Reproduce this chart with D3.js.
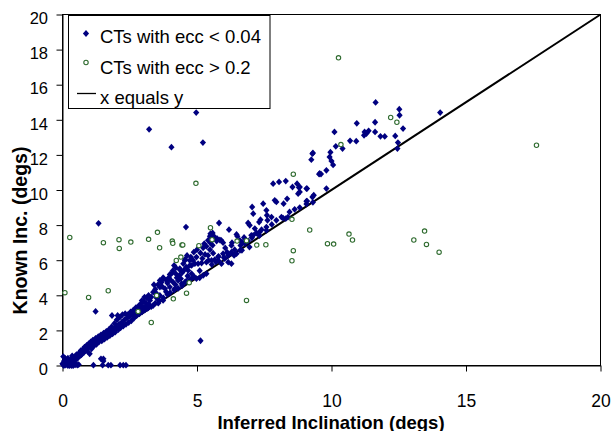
<!DOCTYPE html>
<html><head><meta charset="utf-8">
<script src="https://cdn.jsdelivr.net/npm/d3@7"></script>
<style>body{margin:0;background:#fff;overflow:hidden}</style>
</head><body>
<svg id="c" width="614" height="431"></svg>
<script>
// ---- data: [inferred inclination, known inclination] ----
const lowEcc = [
// origin cluster
[0.02,0.05],[0.05,0.0],[0.08,0.12],[0.1,0.02],[0.12,0.18],[0.15,0.06],[0.18,0.22],[0.2,0.0],[0.22,0.1],[0.25,0.3],
[0.28,0.05],[0.3,0.2],[0.32,0.38],[0.35,0.12],[0.38,0.02],[0.4,0.28],[0.42,0.45],[0.45,0.15],[0.48,0.52],[0.5,0.35],
[0.06,0.25],[0.14,0.32],[0.03,0.51],[0.26,0.0],[0.33,0.0],[0.4,0.0],[0.47,0.03],[0.55,0.02],[0.6,0.05],[0.0,0.1],
[0.1,0.4],[0.2,0.42],[0.36,0.55],
// bottom row and low outliers
[1.15,0.02],[1.49,0.02],[1.52,0.25],[1.7,0.02],[1.8,0.02],[2.14,0.02],[2.26,0.02],[2.36,0.02],[1.01,0.67],[1.52,0.38],
[1.43,0.38],[1.23,3.08],[1.34,8.1],[5.13,1.41],
// band 0.5 - 3.2
[0.52,0.62],[0.55,0.4],[0.58,0.48],[0.62,0.72],[0.65,0.55],[0.68,0.85],[0.7,0.6],[0.73,0.68],[0.76,0.92],[0.8,0.75],
[0.82,1.05],[0.85,0.85],[0.88,0.95],[0.9,1.15],[0.93,0.8],[0.96,1.0],[0.98,1.25],[1.02,1.1],[1.05,1.35],[1.08,0.95],
[1.1,1.2],[1.13,1.45],[1.16,1.1],[1.2,1.3],[1.23,1.55],[1.26,1.2],[1.3,1.45],[1.33,1.65],[1.36,1.35],[1.4,1.55],
[1.43,1.75],[1.46,1.4],[1.5,1.65],[1.53,1.85],[1.56,1.5],[1.6,1.75],[1.63,1.95],[1.66,1.6],[1.7,1.85],[1.73,2.05],
[1.76,1.7],[1.8,1.95],[1.82,2.2],[1.84,2.85],[1.86,1.8],[1.9,2.1],[1.93,2.4],[1.96,1.9],[2.0,2.2],[2.02,2.6],
[2.05,2.85],[2.08,2.05],[2.1,2.35],[2.13,2.75],[2.16,2.15],[2.2,2.45],[2.23,2.9],[2.26,2.25],[2.3,2.6],[2.33,2.95],
[2.36,2.35],[2.4,2.7],[2.43,2.9],[2.46,2.45],[2.5,2.8],[2.53,3.05],[2.56,2.55],[2.6,2.9],[2.63,3.15],[2.66,2.7],
[2.7,3.0],[2.73,3.3],[2.76,2.85],[2.8,3.1],[2.83,3.4],[2.86,2.95],[2.9,3.2],[2.93,3.55],[2.96,3.05],[3.0,3.3],
[3.03,3.65],[3.06,3.15],[3.1,3.4],[3.13,3.85],[3.16,3.25],[3.2,3.5],
// band 3.2 - 5
[3.25,3.71],[3.13,3.52],[3.0,3.33],[2.88,3.23],[3.74,3.71],[3.56,3.55],[3.37,3.42],[3.19,3.29],[3.37,4.18],[3.5,4.09],
[3.62,3.99],[3.62,4.47],[3.81,4.38],[3.99,4.47],[4.18,4.38],[3.77,4.95],[3.87,4.85],[3.68,4.75],[4.11,4.75],[4.3,4.85],
[4.43,4.66],[4.55,4.75],[4.05,5.23],[4.21,5.23],[4.34,5.13],[4.36,5.52],[4.51,5.42],[4.67,5.42],[4.8,5.23],[4.86,5.04],
[4.98,4.95],[5.1,5.0],[5.23,5.13],[5.35,5.23],[4.8,5.7],[4.92,5.8],[5.04,5.8],[5.17,5.84],[4.63,6.27],[4.73,5.99],
[4.55,5.99],[4.88,6.46],[4.98,6.18],[5.13,6.41],[5.3,6.33],[3.74,5.0],[3.99,5.19],[4.21,5.57],[4.36,5.46],[4.49,5.8],
[4.73,5.7],[4.56,6.06],[4.77,6.18],
[3.3,3.35],[3.45,3.55],[3.6,3.7],[3.75,3.85],[3.9,4.05],[4.0,4.15],[4.15,4.3],[4.3,4.4],[4.45,4.55],[4.6,4.8],
[4.75,4.9],[4.9,5.05],[3.5,3.85],[3.85,4.2],[4.2,4.6],[4.4,4.95],[3.45,4.35],[3.55,4.6],[3.3,3.9],[3.9,4.7],
[4.0,4.9],[4.65,5.1],[3.4,4.6],[3.62,4.85],[3.7,4.5],[3.95,5.0],[4.1,5.4],[4.25,5.0],[4.45,5.3],[4.6,5.6],
[4.85,6.0],[5.0,6.6],[4.15,5.7],[3.2,4.0],[3.05,3.9],[2.95,3.7],
// band 5 - 9.5
[5.35,6.79],[5.23,6.71],[5.41,7.13],[5.5,6.98],[5.58,6.85],[5.48,7.36],[5.63,7.36],[5.7,7.23],[5.58,7.55],[5.82,8.12],
[6.19,7.74],[6.47,7.47],[4.59,7.89],[5.35,5.89],[5.54,5.99],[5.66,6.03],[5.97,6.37],[6.16,6.27],[6.12,6.46],[6.28,6.46],
[6.38,6.27],[6.47,6.37],[5.79,5.99],[5.91,5.8],[6.03,6.09],[6.16,5.89],[6.28,5.8],[5.43,5.99],[5.48,6.6],[5.8,6.22],
[6.17,6.29],[6.67,6.56],[6.95,6.75],[7.04,7.28],[7.32,7.4],[5.97,7.0],[5.9,7.13],[5.75,7.23],[6.5,7.36],[6.59,7.13],
[6.69,7.02],[7.02,7.42],[7.21,7.55],[7.33,7.6],[6.9,8.12],[6.96,7.99],[7.31,8.17],[7.36,8.31],[7.58,7.89],[7.62,8.27],
[7.6,8.56],[7.58,8.84],[7.77,8.46],[7.05,9.03],[7.09,8.65],[7.46,9.22],[7.89,9.41],[7.95,9.32],[8.22,9.22],[8.35,9.5],
[8.3,8.37],[8.38,8.46],[8.14,8.46],[7.83,10.36],[8.05,10.46],[8.3,10.51],[8.72,10.36],[8.55,10.17],[8.79,10.14],[9.09,10.08],
[8.82,9.89],[8.76,9.79],[9.34,9.7],[9.29,9.6],[9.09,9.37],[9.29,12.07],[9.25,11.73],[9.54,10.9],
[5.41,6.27],[5.79,6.18],[6.28,6.84],[6.6,6.56],[6.78,6.94],[6.9,7.1],[7.09,7.42],[7.28,7.53],[7.4,7.74],[7.58,7.7],
[7.78,8.04],[7.95,8.27],[8.2,8.4],[8.44,8.75],[8.63,8.9],[8.82,9.0],[9.07,9.2],[9.31,9.3],[5.1,5.4],[5.55,5.75],
[5.7,5.9],[6.0,6.15],[6.4,6.6],[5.27,6.94],[5.5,7.51],[5.73,7.09],[5.85,7.15],[6.62,6.84],[5.2,6.1],[5.6,6.4],
[6.05,6.7],[6.3,7.0],[6.75,7.3],[7.15,7.8],
// upper cluster
[9.56,10.94],[9.61,10.91],[9.81,11.12],[9.81,10.08],[8.82,10.17],[9.07,10.08],[9.07,9.36],[9.31,12.11],[10.06,11.43],[10.0,11.65],
[9.93,11.88],[9.96,12.15],[10.16,12.49],[10.41,12.36],[10.69,12.8],[10.92,12.78],[10.11,13.31],[10.94,13.8],[11.23,13.31],[11.3,13.22],
[11.38,13.37],[11.21,13.12],[11.62,13.31],[11.82,13.06],[11.98,13.05],[12.37,13.08],[12.47,12.7],[12.45,12.36],[12.66,13.5],[11.62,13.86],
[11.64,14.99],[12.52,14.6],[12.53,14.26],[14.04,14.41],
// high outliers
[3.22,13.46],[4.05,12.44],[4.97,14.41],[5.22,12.7]
];
const highEcc = [
[0.27,7.3],[0.09,4.15],[1.52,7.0],[2.1,7.17],[2.11,6.67],[2.54,7.03],[3.2,7.19],[3.53,7.59],[3.61,6.71],[4.08,7.09],
[4.1,6.96],[4.44,6.86],[4.47,6.87],[5.07,6.83],[5.5,7.85],[5.56,7.17],[4.23,5.99],[4.4,6.18],[1.7,4.26],[0.97,3.88],
[3.5,3.99],[4.12,3.8],[4.61,4.12],[4.71,4.72],[3.3,2.45],[2.81,3.08],[6.49,7.09],[6.84,7.11],[7.22,6.86],[7.56,6.88],
[6.84,3.71],[8.53,8.33],[8.58,6.54],[8.53,5.97],[9.19,7.72],[9.85,6.94],[10.08,6.92],[10.65,7.49],[10.78,7.15],[13.06,7.15],
[13.46,7.66],[13.53,6.9],[14.0,6.46],[10.26,17.53],[12.2,14.13],[12.43,13.86],[10.35,12.59],[17.62,12.55],[4.96,10.38],[8.58,10.9]
];
const identityLine = [[0,0],[20,20]];
const xTicks = [0,5,10,15,20];
const yTicks = [0,2,4,6,8,10,12,14,16,18,20];
const seriesNames = ["CTs with ecc < 0.04","CTs with ecc > 0.2","x equals y"];
const xTitle = "Inferred Inclination (degs)";
const yTitle = "Known Inc. (degs)";

// ---- drawing ----
const FONT = "'Liberation Sans', Arial, sans-serif";
const BLUE = "#000080", GREEN = "#2f6b2f";
const svg = d3.select("#c");
const x = d3.scaleLinear().domain([0,20]).range([62.5,600.5]);
const y = d3.scaleLinear().domain([0,20]).range([365.5,14.5]);
const diamond = "M0,-3.4L3.1,0L0,3.4L-3.1,0Z";

svg.append("rect").attr("width",614).attr("height",431).attr("fill","#fff");

// plot frame
svg.append("rect")
  .attr("x", x(0)).attr("y", y(20))
  .attr("width", x(20)-x(0)).attr("height", y(0)-y(20))
  .attr("fill","none").attr("stroke","#000").attr("stroke-width",1);

// axes
const ax = svg.append("g").attr("transform",`translate(0,${y(0)})`)
  .call(d3.axisBottom(x).tickValues(xTicks).tickFormat(d3.format("d")).tickSize(6).tickSizeOuter(0).tickPadding(23));
const ay = svg.append("g").attr("transform",`translate(${x(0)},0)`)
  .call(d3.axisLeft(y).tickValues(yTicks).tickFormat(d3.format("d")).tickSize(6).tickSizeOuter(0).tickPadding(8.5));
[ax, ay].forEach(g => {
  g.select(".domain").attr("stroke","#000");
  g.selectAll(".tick line").attr("stroke","#000");
  g.selectAll("text").attr("fill","#000").style("font-family",FONT);
});
ax.selectAll("text").style("font-size","17.5px");
ay.selectAll("text").style("font-size","16.5px").attr("y",4);

// identity line
svg.append("path")
  .attr("d", d3.line().x(d=>x(d[0])).y(d=>y(d[1]))(identityLine))
  .attr("stroke","#000").attr("stroke-width",2).attr("fill","none");

// low eccentricity points
svg.append("g").selectAll("path").data(lowEcc).join("path")
  .attr("d", diamond)
  .attr("transform", d=>`translate(${x(d[0])},${y(d[1])})`)
  .attr("fill", BLUE);

// high eccentricity points
svg.append("g").selectAll("circle").data(highEcc).join("circle")
  .attr("cx", d=>x(d[0])).attr("cy", d=>y(d[1])).attr("r",2.2)
  .attr("fill","#fff").attr("stroke",GREEN).attr("stroke-width",1.1);

// axis titles
svg.append("text").attr("x",331).attr("y",428.5).attr("text-anchor","middle")
  .style("font-family",FONT).style("font-weight","bold").style("font-size","18.5px").text(xTitle);
svg.append("text").attr("transform","translate(27,230.5) rotate(-90)").attr("text-anchor","middle")
  .style("font-family",FONT).style("font-weight","bold").style("font-size","19.5px").text(yTitle);

// legend
const lg = svg.append("g");
lg.append("rect").attr("x",68.5).attr("y",15.5).attr("width",201.5).attr("height",93)
  .attr("fill","#fff").attr("stroke","#000").attr("stroke-width",1);
lg.append("path").attr("d",diamond).attr("transform","translate(86,33.5)").attr("fill",BLUE);
lg.append("circle").attr("cx",86).attr("cy",62.5).attr("r",2.2)
  .attr("fill","#fff").attr("stroke",GREEN).attr("stroke-width",1.1);
lg.append("line").attr("x1",77).attr("x2",96).attr("y1",93.5).attr("y2",93.5).attr("stroke","#000").attr("stroke-width",1.3);
const baselines = [43.3, 74, 103.5];
lg.selectAll("text.lt").data(seriesNames).join("text").attr("class","lt")
  .attr("x",100).attr("y",(d,i)=>baselines[i])
  .style("font-family",FONT).style("font-size","18.5px").attr("fill","#000").text(d=>d);
</script>
</body></html>
